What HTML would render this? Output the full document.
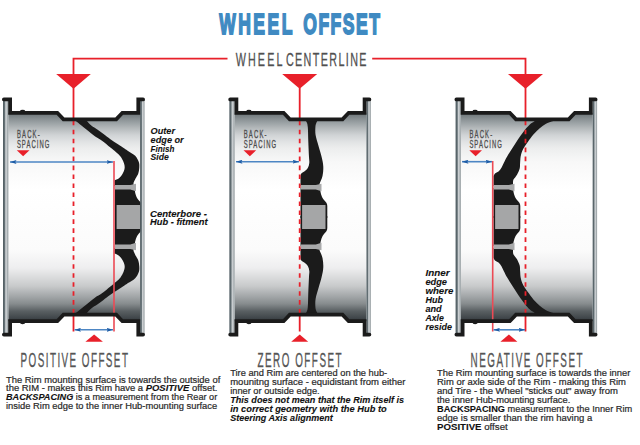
<!DOCTYPE html>
<html><head><meta charset="utf-8">
<style>
html,body{margin:0;padding:0;background:#fff;width:640px;height:445px;overflow:hidden}
svg{position:absolute;left:0;top:0;display:block}
.body{font-family:"Liberation Sans",sans-serif;font-size:9.6px;fill:#2b2b2b;stroke:#2b2b2b;stroke-width:0.22px}
.bi{font-weight:bold;font-style:italic;fill:#111;stroke:#111;stroke-width:0.1px}
.b{font-weight:bold;fill:#111;stroke:#111;stroke-width:0.1px}
</style></head><body>
<svg width="640" height="445" viewBox="0 0 640 445">
<defs>
  <linearGradient id="drum" x1="0" y1="113" x2="0" y2="321" gradientUnits="userSpaceOnUse">
    <stop offset="0.000" stop-color="#6a7275"/>
    <stop offset="0.024" stop-color="#858c8f"/>
    <stop offset="0.043" stop-color="#979ea1"/>
    <stop offset="0.072" stop-color="#b3b8ba"/>
    <stop offset="0.106" stop-color="#d0d3d5"/>
    <stop offset="0.139" stop-color="#e1e3e4"/>
    <stop offset="0.168" stop-color="#eceded"/>
    <stop offset="0.202" stop-color="#f2f3f3"/>
    <stop offset="0.236" stop-color="#f8f8f8"/>
    <stop offset="0.370" stop-color="#ffffff"/>
    <stop offset="0.659" stop-color="#fbfbfb"/>
    <stop offset="0.745" stop-color="#eeeeef"/>
    <stop offset="0.832" stop-color="#c8cacb"/>
    <stop offset="0.885" stop-color="#a0a4a6"/>
    <stop offset="0.918" stop-color="#868b8d"/>
    <stop offset="0.952" stop-color="#5a6063"/>
    <stop offset="0.986" stop-color="#40464a"/>
    <stop offset="1.000" stop-color="#30363a"/>
  </linearGradient>
  <linearGradient id="bar" x1="0" y1="0" x2="1" y2="0">
    <stop offset="0" stop-color="#6a767b"/>
    <stop offset="0.12" stop-color="#505c61"/>
    <stop offset="0.35" stop-color="#6e7a7f"/>
    <stop offset="0.5" stop-color="#cdd1d3"/>
    <stop offset="0.65" stop-color="#c6cbce"/>
    <stop offset="0.85" stop-color="#a4abae"/>
    <stop offset="1" stop-color="#9aa2a5"/>
  </linearGradient>
  <g id="rim">
    <path d="M8.3,112.8 L57.3,112.8 L63.5,119.35 L116.2,119.35 L122.4,112.8 L140.2,112.8 L140.2,321.2 L122.4,321.2 L116.2,314.65 L63.5,314.65 L57.3,321.2 L8.3,321.2 Z" fill="url(#drum)"/>
  </g>
  <g id="bars">
    <rect x="3" y="100" width="5.4" height="234" fill="url(#bar)"/>
    <rect x="140.1" y="100" width="4.5" height="234" fill="url(#bar)"/>
  </g>
  <g id="rimline">
    <path d="M3.9,99.4 H10.1 V112.8 H57.3 L63.5,119.35 H116.2 L122.4,112.8 H138.3 V99.4 H143.1" fill="none" stroke="#1b1b1b" stroke-width="3.8" stroke-linecap="round"/>
    <path d="M3.9,334.6 H10.1 V321.2 H57.3 L63.5,314.65 H116.2 L122.4,321.2 H138.3 V334.6 H143.1" fill="none" stroke="#1b1b1b" stroke-width="3.8" stroke-linecap="round"/>
    <ellipse cx="22.6" cy="111.2" rx="2.6" ry="1.4" fill="#1b1b1b"/>
    <ellipse cx="22.6" cy="322.8" rx="2.6" ry="1.4" fill="#1b1b1b"/>
  </g>
  <g id="hubparts">
    <path d="M0,188 H19.5 C20,194 21.5,197.5 23.5,200 C25.5,202 26.8,203.5 26.8,206 V218 H0 Z" fill="#1b1b1b"/>
    <path d="M0,185 H15.3 L21,183.8 V191.2 L15.3,189.5 H0 Z" fill="#a9aaab"/>
  </g>
  <g id="spokeL"><path d="M73.0,119.0 C73.6,119.4 75.2,120.5 76.5,121.5 C77.8,122.5 78.9,123.5 80.8,125.1 C82.7,126.6 85.6,128.9 88.0,130.8 C90.4,132.7 92.9,134.9 95.2,136.6 C97.5,138.3 99.5,139.0 102.0,140.8 C104.5,142.6 108.1,145.7 110.4,147.6 C112.8,149.5 114.4,150.8 116.1,152.3 C117.8,153.8 119.3,155.0 120.5,156.6 C121.7,158.2 122.8,160.4 123.5,162.0 C124.2,163.6 124.4,164.8 124.6,166.0 C124.8,167.2 124.7,168.2 124.4,169.5 C124.1,170.8 123.5,172.3 122.6,173.8 C121.7,175.3 120.3,177.2 119.0,178.3 C117.7,179.4 115.2,180.1 114.5,180.5 L114.5,186 L133.5,186 L133.5,183.0 C133.9,182.2 134.9,179.8 135.7,178.3 C136.5,176.8 137.6,175.6 138.2,173.8 C138.8,172.0 139.2,169.4 139.3,167.5 C139.4,165.6 139.5,164.0 138.8,162.1 C138.1,160.2 137.0,157.7 135.2,155.8 C133.4,153.9 129.7,152.1 128.0,150.9 C126.3,149.7 126.5,149.8 124.8,148.7 C123.1,147.5 120.0,145.6 117.6,144.0 C115.2,142.4 112.8,140.9 110.4,139.2 C108.0,137.5 105.4,135.4 103.2,133.8 C101.0,132.2 99.2,130.7 97.3,129.4 C95.4,128.1 93.2,127.1 91.6,125.8 C90.0,124.5 88.6,122.9 87.6,121.8 C86.6,120.7 85.8,119.5 85.5,119.0 Z" fill="#1b1b1b"/><use href="#hubparts" x="115"/></g>
  <g id="spokeM"><path d="M78.5,119.0 C78.8,119.6 80.0,121.2 80.5,122.5 C81.0,123.8 81.2,123.8 81.5,127.0 C81.8,130.2 81.8,136.5 82.0,141.5 C82.2,146.5 82.5,153.4 82.7,157.0 C82.9,160.6 83.2,161.2 83.0,163.0 C82.8,164.8 82.3,166.6 81.5,168.0 C80.7,169.4 79.1,170.6 78.0,171.5 C76.9,172.4 75.6,172.7 75.0,173.5 C74.4,174.3 74.3,176.0 74.2,176.5 L74.2,186 L93.3,186 L93.3,183.5 C93.8,182.2 95.6,178.8 96.2,176.0 C96.8,173.2 97.1,169.8 97.0,166.7 C96.9,163.6 96.2,160.6 95.4,157.2 C94.6,153.8 93.3,149.9 92.3,146.2 C91.3,142.5 89.8,138.2 89.3,135.0 C88.8,131.8 89.0,129.0 89.1,127.0 C89.2,125.0 89.5,124.3 90.0,123.0 C90.5,121.7 91.7,119.7 92.0,119.0 Z" fill="#1b1b1b"/><use href="#hubparts" x="74.2"/></g>
  <g id="spokeR"><path d="M84.5,119.0 C84.0,119.4 82.8,120.6 81.6,121.5 C80.4,122.4 78.8,123.1 77.3,124.5 C75.8,125.9 74.0,127.9 72.5,129.8 C71.0,131.7 69.5,133.7 68.0,135.8 C66.5,137.9 65.0,140.1 63.5,142.4 C62.0,144.7 60.5,147.1 59.0,149.5 C57.5,151.9 55.8,154.5 54.5,156.7 C53.2,158.9 52.4,160.7 51.5,162.5 C50.6,164.3 50.0,166.0 49.1,167.5 C48.2,169.0 47.1,170.5 46.0,171.5 C44.9,172.5 43.3,172.7 42.5,173.5 C41.7,174.3 41.2,175.8 41.0,176.2 L41.0,186 L60.5,186 L60.5,183.0 C60.6,182.4 60.3,181.0 61.0,179.6 C61.7,178.2 63.5,176.6 64.5,174.7 C65.5,172.8 66.7,170.3 67.2,168.4 C67.7,166.5 67.4,164.9 67.6,163.0 C67.8,161.1 67.8,158.6 68.1,156.7 C68.4,154.8 68.9,153.1 69.6,151.3 C70.3,149.5 71.5,147.6 72.5,146.0 C73.5,144.4 74.1,143.6 75.5,141.7 C76.9,139.8 79.0,136.8 80.9,134.5 C82.9,132.2 85.1,130.0 87.2,128.2 C89.3,126.4 91.5,124.8 93.5,123.7 C95.5,122.6 97.2,122.1 99.0,121.5 C100.8,120.9 102.5,120.4 104.0,120.0 C105.5,119.6 107.3,119.3 108.0,119.2 Z" fill="#1b1b1b"/><use href="#hubparts" x="41"/></g>
  <marker id="ah" viewBox="0 0 10 10" refX="10" refY="5" markerWidth="6.5" markerHeight="4" preserveAspectRatio="none" orient="auto-start-reverse" markerUnits="userSpaceOnUse">
    <path d="M0,0 L10,5 L0,10 L2,5 Z" fill="#1d5ca6"/>
  </marker>
</defs>
<text transform="translate(218.60,33.60) scale(0.600,1)" x="0.90" y="0" font-family="Liberation Sans" font-size="29.20" font-weight="bold" fill="#3f8ac2" stroke="#3f8ac2" stroke-width="1.80" textLength="122.03" lengthAdjust="spacing" >WHEEL</text>
<text transform="translate(302.70,33.60) scale(0.600,1)" x="0.90" y="0" font-family="Liberation Sans" font-size="29.20" font-weight="bold" fill="#3f8ac2" stroke="#3f8ac2" stroke-width="1.80" textLength="127.87" lengthAdjust="spacing" >OFFSET</text>
<text transform="translate(235.60,65.60) scale(0.560,1)" x="0.15" y="0" font-family="Liberation Sans" font-size="19.20" font-weight="normal" fill="#505050" stroke="#505050" stroke-width="0.30" textLength="83.45" lengthAdjust="spacing" >WHEEL</text>
<text transform="translate(285.80,65.60) scale(0.560,1)" x="0.15" y="0" font-family="Liberation Sans" font-size="19.20" font-weight="normal" fill="#505050" stroke="#505050" stroke-width="0.30" textLength="143.99" lengthAdjust="spacing" >CENTERLINE</text>
<path d="M73.5,88 V58.7 H227.5 M372.2,58.7 H525.5 V88" fill="none" stroke="#e8202a" stroke-width="1.8"/>
<g transform="translate(0,0)"><use href="#rim"/><use href="#spokeL"/><use href="#spokeL" transform="matrix(1,0,0,-1,0,434)"/><rect x="116.6" y="205" width="23.4" height="24" fill="#a5a6a7"/><use href="#bars"/></g>
<g transform="translate(226.3,0)"><use href="#rim"/><use href="#spokeM"/><use href="#spokeM" transform="matrix(1,0,0,-1,0,434)"/><rect x="75.8" y="205" width="23.4" height="24" fill="#a5a6a7"/><use href="#bars"/></g>
<g transform="translate(452.5,0)"><use href="#rim"/><use href="#spokeR"/><use href="#spokeR" transform="matrix(1,0,0,-1,0,434)"/><rect x="42.6" y="205" width="23.4" height="24" fill="#a5a6a7"/><use href="#bars"/></g>
<g stroke="#e8202a" stroke-width="1.8" fill="none">
  <path d="M73.5,88 V118 M73.5,316 V331.5 M299.7,88 V118 M299.7,316 V331.5 M525.5,88 V118 M525.5,316 V331.5"/>
  <path d="M73.5,120.7 V316 M299.7,120.7 V316 M525.5,120.7 V316" stroke-dasharray="4.6 4.37"/>
</g>
<g stroke="#ec4a55" stroke-width="1.6" fill="none">
  <path d="M114,161 V331.5 M492.7,161 V331.5"/>
</g>
<g fill="#e8202a">
  <path d="M56.2,74 H90.8 L73.5,88.8 Z"/>
  <path d="M282.2,74 H317.2 L299.7,88.8 Z"/>
  <path d="M508,74 H543 L525.5,88.8 Z"/>
  <path d="M85.4,341.8 H102.9 L94.1,334.4 Z"/>
  <path d="M291.2,341.8 H308.2 L299.7,334.4 Z"/>
  <path d="M500.4,341.8 H517.4 L508.9,334.6 Z"/>
  <path d="M16.8,150.3 H29.5 L23.15,156.2 Z"/>
  <path d="M243.5,150.3 H256.2 L249.85,156.2 Z"/>
  <path d="M469.3,150.3 H482 L475.65,156.2 Z"/>
</g>
<g stroke="#4d86c4" stroke-width="1.6" fill="none" marker-start="url(#ah)" marker-end="url(#ah)">
  <path d="M10,162 H113"/>
  <path d="M236,161.7 H299"/>
  <path d="M462,161.7 H492"/>
  <path d="M74.5,329.8 H113"/>
  <path d="M493.5,329.8 H525"/>
</g>
<use href="#rimline"/><use href="#rimline" x="226.3"/><use href="#rimline" x="452.5"/>
<text transform="translate(16.80,137.70) scale(0.500,1)" x="0.17" y="0" font-family="Liberation Sans" font-size="11.80" font-weight="normal" fill="#4e4e4e" stroke="#4e4e4e" stroke-width="0.35" textLength="45.65" lengthAdjust="spacing" >BACK-</text>
<text transform="translate(16.80,147.80) scale(0.500,1)" x="0.17" y="0" font-family="Liberation Sans" font-size="11.80" font-weight="normal" fill="#4e4e4e" stroke="#4e4e4e" stroke-width="0.35" textLength="64.85" lengthAdjust="spacing" >SPACING</text>
<text transform="translate(243.60,137.70) scale(0.500,1)" x="0.17" y="0" font-family="Liberation Sans" font-size="11.80" font-weight="normal" fill="#4e4e4e" stroke="#4e4e4e" stroke-width="0.35" textLength="45.65" lengthAdjust="spacing" >BACK-</text>
<text transform="translate(243.60,147.80) scale(0.500,1)" x="0.17" y="0" font-family="Liberation Sans" font-size="11.80" font-weight="normal" fill="#4e4e4e" stroke="#4e4e4e" stroke-width="0.35" textLength="64.85" lengthAdjust="spacing" >SPACING</text>
<text transform="translate(469.30,137.70) scale(0.500,1)" x="0.17" y="0" font-family="Liberation Sans" font-size="11.80" font-weight="normal" fill="#4e4e4e" stroke="#4e4e4e" stroke-width="0.35" textLength="45.65" lengthAdjust="spacing" >BACK-</text>
<text transform="translate(469.30,147.80) scale(0.500,1)" x="0.17" y="0" font-family="Liberation Sans" font-size="11.80" font-weight="normal" fill="#4e4e4e" stroke="#4e4e4e" stroke-width="0.35" textLength="64.85" lengthAdjust="spacing" >SPACING</text>
<text transform="translate(20.50,366.60) scale(0.500,1)" x="0.17" y="0" font-family="Liberation Sans" font-size="19.70" font-weight="normal" fill="#555" stroke="#555" stroke-width="0.35" textLength="214.65" lengthAdjust="spacing" >POSITIVE OFFSET</text>
<text transform="translate(257.40,366.60) scale(0.500,1)" x="0.17" y="0" font-family="Liberation Sans" font-size="19.70" font-weight="normal" fill="#555" stroke="#555" stroke-width="0.35" textLength="168.25" lengthAdjust="spacing" >ZERO OFFSET</text>
<text transform="translate(470.50,366.60) scale(0.500,1)" x="0.17" y="0" font-family="Liberation Sans" font-size="19.70" font-weight="normal" fill="#555" stroke="#555" stroke-width="0.35" textLength="223.85" lengthAdjust="spacing" >NEGATIVE OFFSET</text>
<text class="body bi" x="150.60" y="133.70" textLength="24.40" lengthAdjust="spacingAndGlyphs">Outer</text>
<text class="body bi" x="150.60" y="142.50" textLength="33.10" lengthAdjust="spacingAndGlyphs">edge or</text>
<text class="body bi" x="150.60" y="151.50" textLength="23.80" lengthAdjust="spacingAndGlyphs">Finish</text>
<text class="body bi" x="150.60" y="160.40" textLength="18.20" lengthAdjust="spacingAndGlyphs">Side</text>
<text class="body bi" x="150.00" y="216.50" textLength="56.90" lengthAdjust="spacingAndGlyphs">Centerbore -</text>
<text class="body bi" x="150.00" y="225.40" textLength="57.50" lengthAdjust="spacingAndGlyphs">Hub - fitment</text>
<text class="body bi" x="425.40" y="275.80" textLength="24.10" lengthAdjust="spacingAndGlyphs">Inner</text>
<text class="body bi" x="425.40" y="284.60" textLength="21.60" lengthAdjust="spacingAndGlyphs">edge</text>
<text class="body bi" x="425.40" y="293.60" textLength="27.90" lengthAdjust="spacingAndGlyphs">where</text>
<text class="body bi" x="425.40" y="302.60" textLength="17.50" lengthAdjust="spacingAndGlyphs">Hub</text>
<text class="body bi" x="425.40" y="311.60" textLength="16.20" lengthAdjust="spacingAndGlyphs">and</text>
<text class="body bi" x="425.40" y="320.60" textLength="18.40" lengthAdjust="spacingAndGlyphs">Axle</text>
<text class="body bi" x="425.40" y="329.60" textLength="26.50" lengthAdjust="spacingAndGlyphs">reside</text>
<text class="body" x="6.00" y="382.60" textLength="214.30" lengthAdjust="spacingAndGlyphs">The Rim mounting surface is towards the outside of</text>
<text class="body" x="6.00" y="391.40" textLength="211.50" lengthAdjust="spacingAndGlyphs">the RIM - makes this Rim have a <tspan class="bi">POSITIVE</tspan> offset.</text>
<text class="body" x="6.00" y="400.40" textLength="211.20" lengthAdjust="spacingAndGlyphs"><tspan class="bi">BACKSPACING</tspan> is a measurement from the Rear or</text>
<text class="body" x="6.00" y="409.30" textLength="211.20" lengthAdjust="spacingAndGlyphs">inside Rim edge to the inner Hub-mounting surface</text>
<text class="body" x="230.20" y="375.60" textLength="157.00" lengthAdjust="spacingAndGlyphs">Tire and Rim are centered on the hub-</text>
<text class="body" x="230.20" y="384.60" textLength="175.20" lengthAdjust="spacingAndGlyphs">mounitng surface - equidistant from either</text>
<text class="body" x="230.20" y="393.60" textLength="89.50" lengthAdjust="spacingAndGlyphs">inner or outside edge.</text>
<text class="body bi" x="230.20" y="402.60" textLength="173.90" lengthAdjust="spacingAndGlyphs">This does not mean that the Rim itself is</text>
<text class="body bi" x="230.20" y="411.50" textLength="156.50" lengthAdjust="spacingAndGlyphs">in correct geometry with the Hub to</text>
<text class="body bi" x="230.20" y="420.50" textLength="102.60" lengthAdjust="spacingAndGlyphs">Steering Axis alignment</text>
<text class="body" x="437.00" y="375.80" textLength="193.30" lengthAdjust="spacingAndGlyphs">The Rim mounting surface is towards the inner</text>
<text class="body" x="437.00" y="384.70" textLength="189.00" lengthAdjust="spacingAndGlyphs">Rim or axle side of the Rim - making this Rim</text>
<text class="body" x="437.00" y="393.60" textLength="180.90" lengthAdjust="spacingAndGlyphs">and Tire - the Wheel "sticks out" away from</text>
<text class="body" x="437.00" y="402.70" textLength="133.30" lengthAdjust="spacingAndGlyphs">the inner Hub-mounting surface.</text>
<text class="body" x="437.00" y="411.80" textLength="195.20" lengthAdjust="spacingAndGlyphs"><tspan class="b">BACKSPACING</tspan> measurement to the Inner Rim</text>
<text class="body" x="437.00" y="420.70" textLength="155.20" lengthAdjust="spacingAndGlyphs">edge is smaller than the rim having a</text>
<text class="body" x="437.00" y="429.60" textLength="70.70" lengthAdjust="spacingAndGlyphs"><tspan class="b">POSITIVE</tspan> offset</text>
</svg>
</body></html>
